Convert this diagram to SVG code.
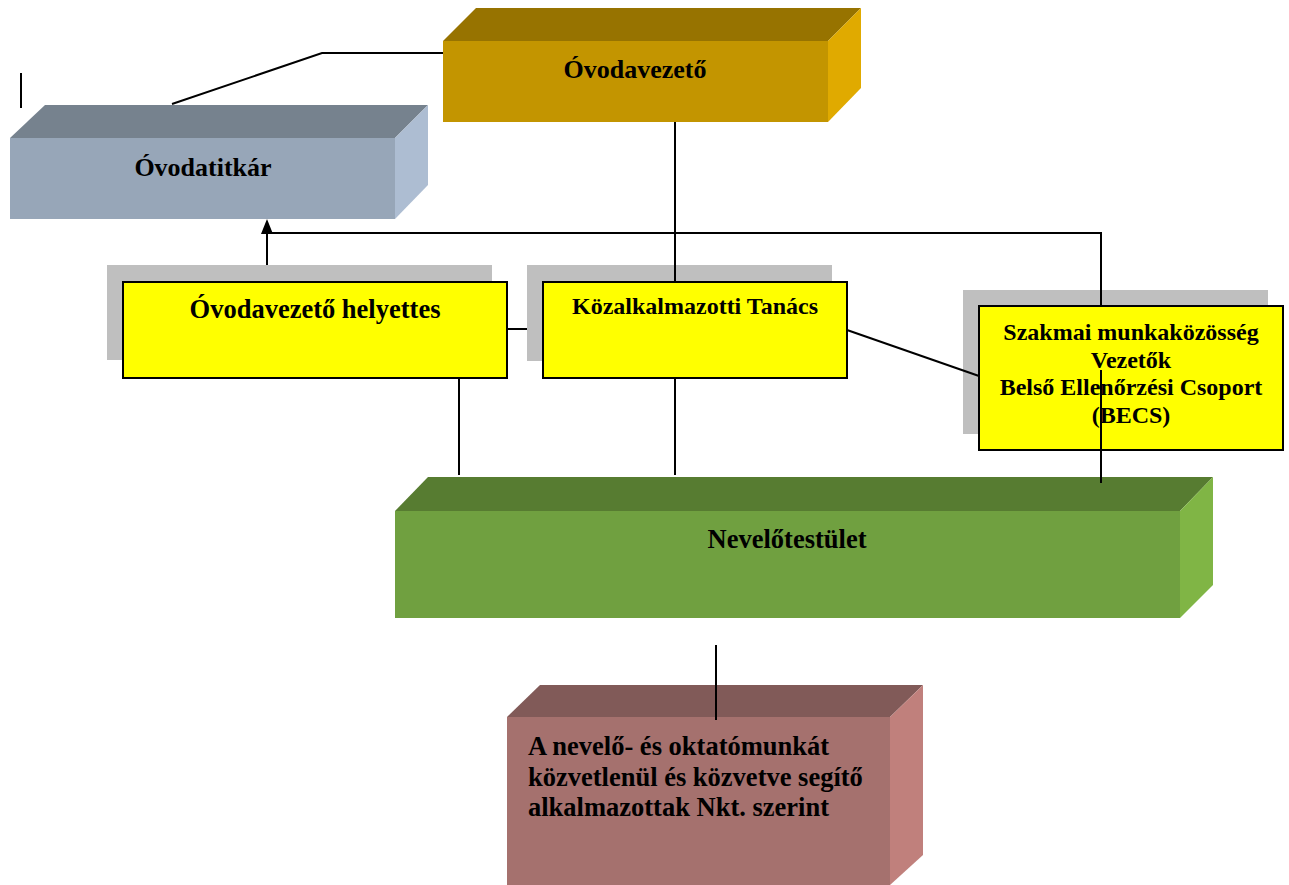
<svg xmlns="http://www.w3.org/2000/svg" width="1289" height="885" viewBox="0 0 1289 885">
<defs>
<style>
text{font-family:"Liberation Serif","Times New Roman",serif;font-weight:bold;fill:#000}
.ln{stroke:#000;stroke-width:2;fill:none}
.yb{fill:#ffff00;stroke:#000;stroke-width:2}
.sh{fill:#bfbfbf}
</style>
</defs>
<rect width="1289" height="885" fill="#fff"/>
<g id="n-titkar">
<polygon points="10,138 45,105 428,105 395,138" fill="#76828e"/>
<polygon points="395,138 428,105 428,185 395,219" fill="#adbdd2"/>
<rect x="10" y="138" width="385" height="81" fill="#97a6b8"/>
<text x="203" y="176" font-size="26" text-anchor="middle">Óvodatitkár</text>
</g>
<g id="n-vezeto">
<polygon points="443,41 476,8 861,8 828,41" fill="#977300"/>
<polygon points="828,41 861,8 861,88 828,122" fill="#e0aa00"/>
<rect x="443" y="41" width="385" height="81" fill="#c39500"/>
<text x="635" y="78" font-size="26" text-anchor="middle">Óvodavezető</text>
</g>
<g id="n-nevelo">
<polygon points="395,511 428,477 1213,477 1180,511" fill="#577c31"/>
<polygon points="1180,511 1213,477 1213,585 1180,618" fill="#80b545"/>
<rect x="395" y="511" width="785" height="107" fill="#70a040"/>
<text x="787" y="548" font-size="26.5" text-anchor="middle">Nevelőtestület</text>
</g>
<g id="n-alkalmazottak">
<polygon points="507,717 540,685 923,685 890,717" fill="#815a58"/>
<polygon points="890,717 923,685 923,855 890,885" fill="#c0807c"/>
<rect x="507" y="717" width="383" height="168" fill="#a5716e"/>
<text x="528" y="755" font-size="26.5">A nevelő- és oktatómunkát</text>
<text x="528" y="786" font-size="26.5">közvetlenül és közvetve segítő</text>
<text x="528" y="816" font-size="26.5">alkalmazottak Nkt. szerint</text>
</g>
<g id="connectors">
<polyline class="ln" points="172,104 322,53 443,53"/>
<line class="ln" x1="21" y1="73" x2="21" y2="108"/>
<line class="ln" x1="675" y1="122" x2="675" y2="282"/>
<polyline class="ln" points="272,233 1101,233 1101,306"/>
<line class="ln" x1="267" y1="282" x2="267" y2="232"/>
<polygon points="261,234 267,219 273,234" fill="#000"/>
<line class="ln" x1="459" y1="378" x2="459" y2="475"/>
<line class="ln" x1="675" y1="378" x2="675" y2="475"/>
<line class="ln" x1="716" y1="645" x2="716" y2="720"/>
</g>
<g id="n-helyettes">
<rect class="sh" x="107" y="265" width="385" height="95"/>
<line class="ln" x1="507" y1="329" x2="543" y2="329"/>
<rect class="yb" x="123" y="282" width="384" height="96"/>
<text x="315" y="318" font-size="26.5" text-anchor="middle">Óvodavezető helyettes</text>
</g>
<g id="n-kozalk">
<rect class="sh" x="527" y="265" width="305" height="96"/>
<line x1="675" y1="265" x2="675" y2="282" stroke="#000" stroke-width="2"/>
<rect class="yb" x="543" y="282" width="304" height="96"/>
<text x="695" y="314" font-size="24" text-anchor="middle">Közalkalmazotti Tanács</text>
</g>
<g id="n-szakmai">
<rect class="sh" x="963" y="290" width="305" height="144"/>
<line class="ln" x1="847" y1="330" x2="979" y2="376"/>
<line x1="1101" y1="290" x2="1101" y2="306" stroke="#000" stroke-width="2"/>
<rect class="yb" x="979" y="306" width="304" height="144"/>
<text x="1131" y="340" font-size="24" text-anchor="middle">Szakmai munkaközösség</text>
<text x="1131" y="368" font-size="24" text-anchor="middle">Vezetők</text>
<text x="1131" y="395" font-size="24" text-anchor="middle">Belső Ellenőrzési Csoport</text>
<text x="1131" y="423" font-size="24" text-anchor="middle">(BECS)</text>
<line x1="1101" y1="370" x2="1101" y2="483" stroke="#000" stroke-width="2"/>
</g>
</svg>
